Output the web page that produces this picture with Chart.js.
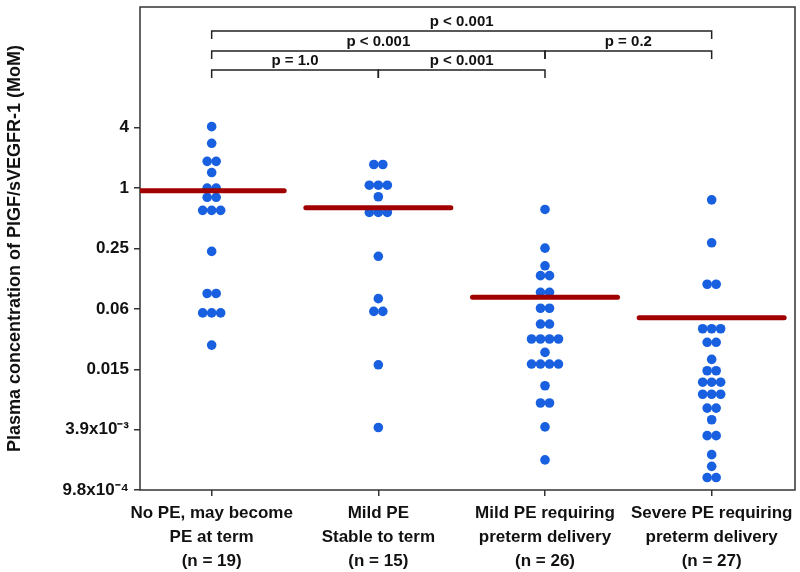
<!DOCTYPE html>
<html>
<head>
<meta charset="utf-8">
<script src="https://cdn.jsdelivr.net/npm/chart.js@4"></script>
<style>
  body { margin: 0; background: #fff; }
</style>
</head>
<body>
<canvas id="dotChart" width="800" height="572"></canvas>
<script>
// PlGF/sVEGFR-1 ratio (MoM) by outcome group, log scale dot plot

var groupNames = [
    'No PE, may become\nPE at term\n(n = 19)',
    'Mild PE\nStable to term\n(n = 15)',
    'Mild PE requiring\npreterm delivery\n(n = 26)',
    'Severe PE requiring\npreterm delivery\n(n = 27)'
];

var noPE = [4.1, 2.8, 1.85, 1.85, 1.43, 1.0, 1.0, 0.81, 0.81, 0.6, 0.6, 0.6,
    0.234, 0.089, 0.089, 0.057, 0.057, 0.057, 0.0272];
var mildStable = [1.72, 1.72, 1.07, 1.07, 1.07, 0.82, 0.573, 0.573, 0.573,
    0.209, 0.079, 0.059, 0.059, 0.0173, 0.0041];
var mildPreterm = [0.613, 0.252, 0.168, 0.134, 0.134, 0.0914, 0.0914, 0.0634, 0.0634,
    0.0441, 0.0441, 0.0313, 0.0313, 0.0313, 0.0313, 0.023, 0.0176, 0.0176, 0.0176, 0.0176,
    0.0107, 0.0072, 0.0072, 0.00416, 0.00195];
var severePreterm = [0.764, 0.285, 0.11, 0.11, 0.0396, 0.0396, 0.0396, 0.029, 0.029,
    0.0196, 0.0151, 0.0151, 0.0116, 0.0116, 0.0116, 0.0088, 0.0088, 0.0088, 0.0064, 0.0064,
    0.0049, 0.0034, 0.0034, 0.0022, 0.00168, 0.0013, 0.0013];
var medians = [0.94, 0.636, 0.0815, 0.051];

var yTickValues = [0.0009765625, 0.00390625, 0.015625, 0.0625, 0.25, 1, 4];
var yTickLabels = ['9.8x10\u207B\u2074', '3.9x10\u207B\u00B3', '0.015', '0.06', '0.25', '1', '4'];

// significance brackets: from group, to group, text, row (0 = top)
var bracketFrom = [1, 1, 3, 1, 2];
var bracketTo = [4, 3, 4, 2, 3];
var bracketText = ['p < 0.001', 'p < 0.001', 'p = 0.2', 'p = 1.0', 'p < 0.001'];
var bracketRow = [0, 1, 1, 2, 2];

var dotColor = '#1860e0';
var medianColor = '#a00000';
var dotStep = 0.054;   // horizontal spread of tied dots, in category units
var medianHalf = 0.435;

// spread tied values side by side
function swarm(values, center) {
    var pts = [];
    var i = 0;
    while (i < values.length) {
        var j = i;
        while (j < values.length && values[j] === values[i]) j++;
        var n = j - i;
        for (var k = 0; k < n; k++) {
            pts.push({ x: center + (k - (n - 1) / 2) * dotStep, y: values[i] });
        }
        i = j;
    }
    return pts;
}

var groups = [noPE, mildStable, mildPreterm, severePreterm];
var datasets = [];

medians.forEach(function (m, i) {
    datasets.push({
        type: 'line',
        data: [{ x: i + 1 - medianHalf, y: m }, { x: i + 1 + medianHalf, y: m }],
        borderColor: medianColor,
        borderWidth: 5,
        borderCapStyle: 'round',
        pointRadius: 0,
        fill: false,
        order: 0
    });
});

groups.forEach(function (g, i) {
    datasets.push({
        data: swarm(g, i + 1),
        backgroundColor: dotColor,
        borderWidth: 0,
        pointRadius: 4.8,
        order: 1
    });
});

var framePlugin = {
    id: 'frame',
    beforeDatasetsDraw: function (chart) {
        var a = chart.chartArea;
        var ctx = chart.ctx;
        ctx.save();
        ctx.strokeStyle = '#333';
        ctx.lineWidth = 1.5;
        ctx.strokeRect(a.left, a.top, a.right - a.left, a.bottom - a.top);
        ctx.restore();
    }
};

var bracketPlugin = {
    id: 'brackets',
    afterDraw: function (chart) {
        var ctx = chart.ctx;
        var xs = chart.scales.x;
        var top = chart.chartArea.top;
        var rowY = [24, 44, 63];
        ctx.save();
        ctx.strokeStyle = '#222';
        ctx.lineWidth = 1.5;
        ctx.fillStyle = '#111';
        ctx.font = "bold 15px 'Liberation Sans', Arial, sans-serif";
        ctx.textAlign = 'center';
        ctx.textBaseline = 'alphabetic';
        for (var i = 0; i < bracketFrom.length; i++) {
            var x1 = xs.getPixelForValue(bracketFrom[i]);
            var x2 = xs.getPixelForValue(bracketTo[i]);
            var y = top + rowY[bracketRow[i]];
            ctx.beginPath();
            ctx.moveTo(x1, y + 8);
            ctx.lineTo(x1, y);
            ctx.lineTo(x2, y);
            ctx.lineTo(x2, y + 8);
            ctx.stroke();
            ctx.fillText(bracketText[i], (x1 + x2) / 2, y - 5);
        }
        ctx.restore();
    }
};

Chart.defaults.font.family = "'Liberation Sans', Arial, sans-serif";
Chart.defaults.color = '#111';

var ctx = document.getElementById('dotChart');

var dotChart = new Chart(ctx, {
    type: 'scatter',
    data: { datasets: datasets },
    plugins: [framePlugin, bracketPlugin],
    options: {
        responsive: false,
        animation: false,
        layout: { padding: { top: 7, right: 5, left: 0, bottom: 0 } },
        plugins: {
            legend: { display: false },
            tooltip: { enabled: false }
        },
        scales: {
            x: {
                type: 'linear',
                min: 0.57,
                max: 4.5,
                afterBuildTicks: function (s) {
                    s.ticks = groupNames.map(function (_, i) { return { value: i + 1 }; });
                },
                afterFit: function (s) {
                    s.height = 82;
                    s.paddingLeft = 0;
                    s.paddingRight = 0;
                },
                border: { display: false },
                grid: { drawOnChartArea: false, drawTicks: true, tickLength: 6, color: '#333', lineWidth: 1.5 },
                ticks: {
                    callback: function (v, i) { return groupNames[i].split('\n'); },
                    font: { size: 17, weight: 'bold', lineHeight: 1.42 },
                    padding: 5,
                    maxRotation: 0,
                    autoSkip: false,
                    color: '#111'
                }
            },
            y: {
                type: 'logarithmic',
                min: 0.0009765625,
                max: 64,
                afterBuildTicks: function (s) {
                    s.ticks = yTickValues.map(function (v) { return { value: v }; });
                },
                afterFit: function (s) {
                    s.width = 140;
                    s.paddingTop = 0;
                    s.paddingBottom = 0;
                },
                border: { display: false },
                grid: { drawOnChartArea: false, drawTicks: true, tickLength: 6, color: '#333', lineWidth: 1.5 },
                ticks: {
                    callback: function (v, i) { return yTickLabels[i]; },
                    font: { size: 17, weight: 'bold' },
                    padding: 5,
                    autoSkip: false,
                    color: '#111'
                },
                title: {
                    display: true,
                    text: 'Plasma concentration of PlGF/sVEGFR-1 (MoM)',
                    font: { size: 18, weight: 'bold' },
                    padding: { top: 4, bottom: 0 },
                    color: '#111'
                }
            }
        }
    }
});
</script>
</body>
</html>
